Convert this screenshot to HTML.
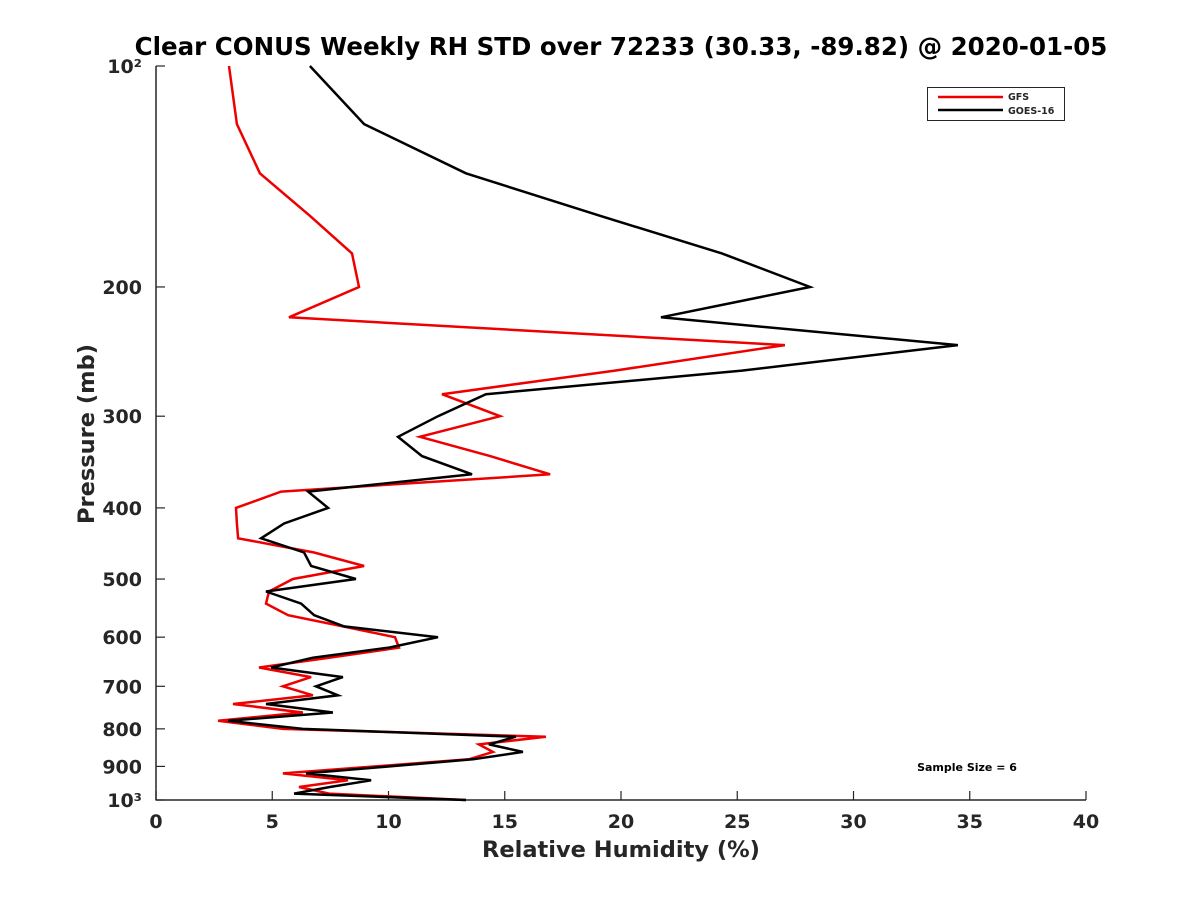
<!DOCTYPE html>
<html><head><meta charset="utf-8"><style>
body{margin:0;background:#fff;width:1200px;height:900px;overflow:hidden}
svg text{font-family:"DejaVu Sans","Liberation Sans",sans-serif;font-weight:bold;fill:#262626}
</style></head><body>
<svg id="chart" width="1200" height="900">
<text x="621" y="55" text-anchor="middle" font-size="24.5" style="fill:#000">Clear CONUS Weekly RH STD over 72233 (30.33, -89.82) @ 2020-01-05</text>
<g id="axes"></g>
<g id="series"></g>
<g>
<rect x="927.5" y="87.5" width="137" height="33" fill="#fff" stroke="#262626" stroke-width="1"/>
<line x1="938" y1="97" x2="1003" y2="97" stroke="#e00" stroke-width="2.5"/>
<text x="1008" y="100" font-size="9.5">GFS</text>
<line x1="938" y1="110" x2="1003" y2="110" stroke="#000" stroke-width="2.5"/>
<text x="1008" y="114" font-size="9.5">GOES-16</text>
</g>
<text x="967" y="771" text-anchor="middle" font-size="11" style="fill:#000">Sample Size = 6</text>
<text x="621" y="857" text-anchor="middle" font-size="22.5">Relative Humidity (%)</text>
<text transform="translate(94,434) rotate(-90)" text-anchor="middle" font-size="22.5">Pressure (mb)</text>
</svg>
<script>
const pressure=[100,120,140,160,180,200,220,240,260,280,300,320,340,360,380,400,420,440,460,480,500,520,540,560,580,600,620,640,660,680,700,720,740,760,780,800,820,840,860,880,920,940,960,980,1000];
const gfs=[3.14,3.48,4.47,6.62,8.43,8.73,5.72,27.05,19.74,12.30,14.80,11.35,14.37,16.95,5.38,3.44,3.48,3.53,6.80,8.95,5.89,4.86,4.73,5.68,8.04,10.28,10.45,7.48,4.43,6.67,5.46,6.75,3.31,6.32,2.67,5.46,16.77,13.89,14.49,13.46,5.46,8.26,6.15,7.44,13.33];
const goes=[6.62,8.95,13.33,19.10,24.34,28.13,21.72,34.49,25.20,14.19,12.13,10.41,11.44,13.59,6.54,7.40,5.51,4.52,6.37,6.67,8.60,4.73,6.24,6.80,8.09,12.13,10.02,6.75,4.95,8.04,6.88,7.83,4.73,7.61,3.10,6.32,15.48,14.32,15.78,13.63,6.45,9.25,7.48,5.94,13.33];
const xTicks=[0,5,10,15,20,25,30,35,40];
const yTicks=[100,200,300,400,500,600,700,800,900,1000];
const yTickLabels=["10²","200","300","400","500","600","700","800","900","10³"];
const X0=156,X1=1086,Y0=66,Y1=800;
const xs=v=>X0+(v-0)/40*(X1-X0);
const ys=p=>Y0+(Math.log10(p)-2)*(Y1-Y0);
const NS="http://www.w3.org/2000/svg";
const axes=document.getElementById('axes'),ser=document.getElementById('series');
function mk(tag,at,parent){const e=document.createElementNS(NS,tag);for(const k in at)e.setAttribute(k,at[k]);parent.appendChild(e);return e;}
let l=mk('line',{x1:X0,y1:Y0,x2:X0,y2:Y1+0.5,stroke:'#262626','stroke-width':1.5},axes);


l=mk('line',{x1:X0,y1:Y1,x2:X1,y2:Y1,stroke:'#262626','stroke-width':1.5},axes);


xTicks.forEach(v=>{const x=xs(v);
 mk('line',{x1:x,y1:Y1,x2:x,y2:Y1-9,stroke:'#262626','stroke-width':1.2},axes);
 const t=mk('text',{x:x,y:Y1+28,'text-anchor':'middle','font-size':19},axes);t.textContent=v;
 
 });
yTicks.forEach((p,i)=>{const y=ys(p);
 mk('line',{x1:X0,y1:y,x2:X0+9,y2:y,stroke:'#262626','stroke-width':1.2},axes);
 const t=mk('text',{x:X0-14,y:y+7,'text-anchor':'end','font-size':19},axes);t.textContent=yTickLabels[i];
 
 });
function line(vals,color,name){const pts=vals.map((v,i)=>xs(v).toFixed(1)+','+ys(pressure[i]).toFixed(1)).join(' ');
 const e=mk('polyline',{points:pts,fill:'none',stroke:color,'stroke-width':2.5,'stroke-linejoin':'miter'},ser);
 
 }
line(gfs,'#e00','gfs-line');
line(goes,'#000','goes16-line');
</script>
</body></html>
